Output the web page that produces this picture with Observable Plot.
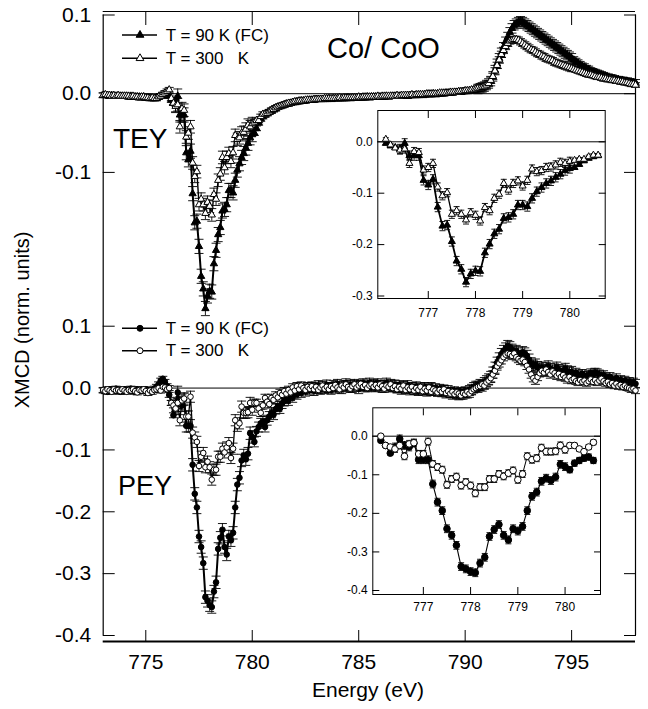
<!DOCTYPE html>
<html><head><meta charset="utf-8">
<script src="https://cdn.jsdelivr.net/npm/d3@7"></script>
<script src="https://cdn.jsdelivr.net/npm/@observablehq/plot@0.6"></script>
<style>
body{margin:0;background:#fff;}
#chart{position:relative;width:648px;height:709px;overflow:hidden;background:#fff;}
#chart > svg{position:absolute;}
</style></head><body><div id="chart"></div>
<script>
// ---------------- data (Energy grid 773.0 .. 798.0 eV, step 0.1) ----------------
const energyStart = 773.0, energyStep = 0.1;

// TEY, T = 90 K (FC)
const tey90 = [
-0.002,-0.002,-0.002,-0.003,-0.002,-0.003,-0.003,-0.003,-0.003,-0.003,
-0.003,-0.003,-0.004,-0.003,-0.004,-0.004,-0.004,-0.004,-0.005,-0.004,
-0.005,-0.005,-0.005,-0.006,-0.006,-0.005,-0.004,-0.003,-0.002,-0.001,
0.000,
-0.003,-0.008,-0.011,-0.014,-0.003,-0.027,-0.027,-0.027,-0.075,-0.084,
-0.073,-0.127,-0.164,-0.162,-0.194,-0.232,-0.248,-0.273,-0.257,-0.251,
-0.252,-0.216,-0.199,-0.179,-0.170,-0.149,-0.147,-0.141,-0.123,-0.123,
-0.126,-0.110,-0.097,-0.089,-0.081,-0.076,-0.069,-0.063,-0.056,-0.052,
-0.050,-0.044,-0.037,-0.032,-0.029,-0.027,
-0.025,-0.023,-0.022,-0.020,-0.019,-0.017,-0.016,-0.015,-0.014,-0.013,
-0.013,-0.012,-0.011,-0.011,-0.010,-0.010,-0.009,-0.009,-0.009,-0.008,
-0.008,-0.008,-0.008,-0.007,-0.007,-0.007,-0.007,-0.007,-0.007,-0.006,
-0.007,-0.006,-0.006,-0.006,-0.006,-0.006,-0.006,-0.006,-0.005,-0.006,
-0.005,-0.005,-0.005,-0.005,-0.005,-0.005,-0.005,-0.004,-0.005,-0.004,
-0.004,-0.004,-0.004,-0.004,-0.004,-0.004,-0.003,-0.004,-0.003,-0.003,
-0.003,-0.003,-0.003,-0.003,-0.003,-0.002,-0.003,-0.002,-0.002,-0.002,
-0.002,-0.002,-0.001,-0.002,-0.001,-0.001,-0.001,-0.001,0.000,-0.001,
0.000,0.000,0.000,0.000,0.001,0.001,0.001,0.001,0.002,0.002,
0.002,0.002,0.003,0.003,0.003,0.004,0.004,0.005,0.005,0.006,
0.007,0.008,0.009,0.011,0.013,0.016,0.022,0.030,0.038,0.045,
0.052,0.059,0.066,0.072,0.078,0.083,0.087,0.089,0.091,0.092,
0.091,0.089,0.087,0.085,0.083,0.081,0.079,0.077,0.075,0.073,
0.071,0.069,0.067,0.065,0.063,0.061,0.059,0.057,0.055,0.053,
0.051,0.049,0.047,0.045,0.043,0.041,0.039,0.037,0.035,0.034,
0.032,0.031,0.029,0.028,0.027,0.026,0.025,0.024,0.023,0.022,
0.021,0.020,0.020,0.019,0.018,0.018,0.017,0.017,0.016,0.016,
0.015,0.015,0.014,0.014
];

// TEY, T = 300 K
const tey300 = [
-0.002,-0.001,-0.002,-0.002,-0.003,-0.002,-0.003,-0.002,-0.003,-0.003,
-0.003,-0.003,-0.003,-0.004,-0.003,-0.004,-0.004,-0.005,-0.004,-0.004,
-0.005,-0.005,-0.006,-0.005,-0.006,-0.006,-0.004,-0.003,-0.001,0.001,
0.003,
0.005,-0.006,-0.012,-0.016,-0.014,-0.042,-0.019,-0.021,-0.055,-0.050,
-0.042,-0.088,-0.105,-0.099,-0.141,-0.134,-0.141,-0.152,-0.138,-0.143,
-0.154,-0.128,-0.134,-0.110,-0.102,-0.081,-0.094,-0.081,-0.076,-0.086,
-0.075,-0.053,-0.058,-0.056,-0.050,-0.049,-0.045,-0.040,-0.042,-0.038,
-0.036,-0.034,-0.034,-0.029,-0.026,-0.026,
-0.025,-0.023,-0.021,-0.020,-0.018,-0.017,-0.016,-0.015,-0.014,-0.013,
-0.012,-0.012,-0.011,-0.010,-0.010,-0.009,-0.009,-0.009,-0.008,-0.008,
-0.008,-0.008,-0.007,-0.007,-0.007,-0.007,-0.007,-0.006,-0.006,-0.006,
-0.006,-0.006,-0.006,-0.006,-0.005,-0.006,-0.005,-0.005,-0.005,-0.005,
-0.005,-0.005,-0.005,-0.004,-0.005,-0.004,-0.004,-0.004,-0.004,-0.004,
-0.004,-0.004,-0.003,-0.004,-0.003,-0.003,-0.003,-0.003,-0.003,-0.003,
-0.003,-0.002,-0.003,-0.002,-0.002,-0.002,-0.002,-0.002,-0.001,-0.002,
-0.001,-0.001,-0.001,-0.001,-0.001,0.000,0.000,0.000,0.000,0.000,
0.000,0.001,0.001,0.001,0.001,0.001,0.002,0.002,0.002,0.002,
0.003,0.003,0.003,0.004,0.004,0.004,0.005,0.005,0.006,0.007,
0.007,0.008,0.009,0.011,0.013,0.017,0.022,0.029,0.036,0.043,
0.050,0.055,0.060,0.064,0.067,0.068,0.069,0.069,0.068,0.066,
0.064,0.062,0.060,0.058,0.056,0.055,0.053,0.051,0.050,0.048,
0.047,0.045,0.044,0.043,0.042,0.040,0.039,0.038,0.037,0.036,
0.035,0.034,0.033,0.032,0.031,0.030,0.029,0.028,0.027,0.026,
0.025,0.024,0.024,0.023,0.022,0.021,0.021,0.020,0.019,0.019,
0.018,0.018,0.017,0.017,0.016,0.016,0.015,0.015,0.014,0.014,
0.013,0.012,0.012,0.011
];

// PEY, T = 90 K (FC)
const pey90 = [
-0.004,-0.003,-0.006,-0.002,-0.005,-0.003,-0.001,-0.004,-0.006,-0.003,
-0.002,-0.005,-0.003,-0.001,-0.004,-0.006,-0.002,-0.004,-0.003,-0.005,
-0.002,-0.004,-0.006,-0.003,-0.001,0.002,0.006,0.012,0.015,0.010,
0.003,
-0.011,-0.024,-0.044,-0.028,-0.007,-0.024,-0.028,-0.018,-0.061,-0.061,
-0.061,-0.124,-0.171,-0.193,-0.240,-0.257,-0.283,-0.338,-0.344,-0.351,
-0.354,-0.329,-0.314,-0.260,-0.242,-0.229,-0.257,-0.269,-0.240,-0.246,
-0.234,-0.193,-0.156,-0.145,-0.117,-0.109,-0.115,-0.106,-0.073,-0.079,
-0.087,-0.070,-0.063,-0.057,-0.054,-0.063,
-0.052,-0.046,-0.040,-0.043,-0.034,-0.030,-0.033,-0.025,-0.021,-0.017,
-0.020,-0.012,-0.015,-0.008,-0.010,-0.004,-0.007,-0.002,-0.005,0.001,
-0.003,0.002,-0.004,0.000,0.004,-0.002,0.003,-0.001,0.005,0.001,
-0.002,0.004,0.000,0.006,0.002,-0.001,0.004,0.007,0.002,0.005,
0.001,0.006,0.003,-0.001,0.004,0.007,0.002,0.005,0.008,0.003,
0.006,0.002,0.007,0.004,0.001,0.005,0.008,0.003,0.006,0.002,
0.005,0.001,0.004,-0.002,0.003,0.000,0.004,-0.003,0.001,-0.002,
0.002,-0.004,0.000,-0.003,0.001,-0.005,-0.002,0.001,-0.004,-0.001,
-0.005,-0.002,-0.006,-0.003,-0.008,-0.004,-0.007,-0.010,-0.006,-0.009,
-0.011,-0.007,-0.010,-0.006,-0.008,-0.004,-0.002,0.001,0.003,0.002,
0.005,0.004,0.008,0.011,0.014,0.018,0.025,0.033,0.041,0.048,
0.055,0.060,0.064,0.068,0.066,0.062,0.058,0.060,0.056,0.052,
0.058,0.056,0.052,0.046,0.040,0.036,0.038,0.034,0.031,0.033,
0.029,0.032,0.035,0.031,0.028,0.030,0.033,0.029,0.026,0.028,
0.031,0.027,0.024,0.026,0.022,0.025,0.021,0.019,0.023,0.020,
0.019,0.021,0.024,0.022,0.025,0.024,0.022,0.019,0.021,0.017,
0.015,0.018,0.014,0.012,0.016,0.011,0.013,0.009,0.012,0.008,
0.010,0.006,0.009,0.007
];

// PEY, T = 300 K
const pey300 = [
-0.003,-0.005,-0.002,-0.004,-0.006,-0.002,-0.004,-0.003,-0.005,-0.002,
-0.004,-0.006,-0.003,-0.004,-0.002,-0.005,-0.007,-0.003,-0.004,-0.002,
-0.005,-0.008,-0.004,-0.006,-0.003,-0.002,0.000,-0.004,0.002,0.001,
-0.002,
0.000,-0.024,-0.028,-0.033,-0.024,-0.052,-0.020,-0.017,-0.046,-0.046,
-0.014,-0.072,-0.080,-0.087,-0.126,-0.111,-0.105,-0.128,-0.119,-0.128,
-0.148,-0.132,-0.132,-0.111,-0.111,-0.098,-0.104,-0.096,-0.089,-0.113,
-0.098,-0.052,-0.061,-0.057,-0.030,-0.040,-0.040,-0.039,-0.024,-0.035,
-0.024,-0.024,-0.033,-0.040,-0.028,-0.016,
-0.022,-0.026,-0.016,-0.019,-0.012,-0.015,-0.008,-0.011,-0.005,-0.009,
-0.003,-0.007,0.001,-0.004,0.003,-0.002,0.004,0.000,-0.003,0.002,
-0.001,0.003,-0.002,0.002,-0.003,0.001,0.004,-0.001,0.002,-0.002,
0.003,0.000,0.005,0.001,-0.002,0.004,0.001,0.006,0.002,-0.001,
0.003,0.006,0.001,0.004,0.007,0.002,0.005,0.000,0.004,0.006,
0.002,0.005,0.001,0.006,0.003,-0.001,0.004,0.002,0.006,0.000,
0.003,-0.002,0.002,-0.001,0.004,-0.003,0.001,-0.002,0.002,-0.004,
0.000,-0.003,0.002,-0.005,-0.001,-0.004,0.001,-0.006,-0.002,-0.004,
-0.007,-0.003,-0.006,-0.002,-0.008,-0.005,-0.009,-0.006,-0.010,-0.007,
-0.009,-0.012,-0.008,-0.010,-0.006,-0.009,-0.005,-0.002,0.000,0.002,
0.003,0.006,0.004,0.009,0.012,0.016,0.022,0.028,0.035,0.040,
0.045,0.050,0.054,0.056,0.055,0.052,0.056,0.050,0.047,0.044,
0.046,0.042,0.036,0.030,0.022,0.016,0.012,0.018,0.024,0.028,
0.025,0.030,0.026,0.022,0.027,0.024,0.020,0.023,0.018,0.021,
0.017,0.014,0.018,0.013,0.015,0.011,0.009,0.013,0.010,0.012,
0.008,0.011,0.014,0.010,0.013,0.009,0.012,0.015,0.011,0.008,
0.010,0.006,0.008,0.004,0.007,0.003,0.005,0.002,0.004,0.001,
0.000,-0.002,-0.001,-0.004
];

// error-bar half widths, by energy band (edges in eV)
const errEdges  = [776.35, 780.05, 790.55, 795.05];
const tey90Err  = [0.003, 0.009, 0.003, 0.006, 0.004];
const tey300Err = [0.003, 0.008, 0.003, 0.004, 0.003];
const pey90Err  = [0.004, 0.010, 0.008, 0.009, 0.007];
const pey300Err = [0.004, 0.009, 0.006, 0.006, 0.005];

// axis ticks / domains
const xTicks = [775, 780, 785, 790, 795];
const xDomain = [773, 798];
const topYTicks = [0.1, 0, -0.1];
const botYTicks = [0.1, 0, -0.1, -0.2, -0.3, -0.4];
const insetXTicks = [777, 778, 779, 780];
const inset1YTicks = [0, -0.1, -0.2, -0.3];
const inset2YTicks = [0, -0.1, -0.2, -0.3, -0.4];
const insetRange = [776.05, 780.65];

const legendTEY = ["T = 90 K (FC)", "T = 300   K"];
const legendPEY = ["T = 90 K (FC)", "T = 300   K"];

// ---------------- build ----------------
const energy = tey90.map((_, i) => Math.round((energyStart + i * energyStep) * 10) / 10);
function rows(vals, errs) {
  return vals.map((v, i) => {
    const e = energy[i];
    let k = 0; while (k < errEdges.length && e > errEdges[k]) k++;
    return {e, v, err: errs[k]};
  });
}
const T90 = rows(tey90, tey90Err), T300 = rows(tey300, tey300Err);
const P90 = rows(pey90, pey90Err), P300 = rows(pey300, pey300Err);
const inInset = d => d.e >= insetRange[0] && d.e <= insetRange[1];

const font = "'Liberation Sans', Arial, Helvetica, sans-serif";
const fmt = d => d.toFixed(1);
const blank = () => "";
const capSymbol = {draw(ctx, size) { const w = Math.sqrt(size / Math.PI); ctx.moveTo(-w, 0); ctx.lineTo(w, 0); }};

function series(data, o) {
  const m = [Plot.line(data, {x: "e", y: "v", stroke: "#000", strokeWidth: o.lw})];
  if (o.cap) {
    m.push(Plot.ruleX(data, {x: "e", y1: d => d.v - d.err, y2: d => d.v + d.err, stroke: "#000", strokeWidth: 0.9}));
    m.push(Plot.dot(data, {x: "e", y: d => d.v - d.err, symbol: capSymbol, r: o.cap, fill: "none", stroke: "#000", strokeWidth: 0.9}));
    m.push(Plot.dot(data, {x: "e", y: d => d.v + d.err, symbol: capSymbol, r: o.cap, fill: "none", stroke: "#000", strokeWidth: 0.9}));
  }
  m.push(Plot.dot(data, {x: "e", y: "v", symbol: o.symbol, r: o.r, fill: o.filled ? "#000" : "#fff", stroke: "#000", strokeWidth: 1}));
  return m;
}
// inward ticks: positive tick length shifted back inside the frame
function inwardTicks(xt, yt, xLen, yLen, sides) {
  const m = [];
  if (sides.includes("top")) m.push(Plot.axisX({anchor: "top", ticks: xt, tickSize: xLen, dy: xLen, tickFormat: blank, label: null}));
  if (sides.includes("bottom")) m.push(Plot.axisX({anchor: "bottom", ticks: xt, tickSize: xLen, dy: -xLen, tickFormat: blank, label: null}));
  if (sides.includes("left")) m.push(Plot.axisY({anchor: "left", ticks: yt, tickSize: yLen, dx: yLen, tickFormat: blank, label: null}));
  if (sides.includes("right")) m.push(Plot.axisY({anchor: "right", ticks: yt, tickSize: yLen, dx: -yLen, tickFormat: blank, label: null}));
  return m;
}

const chart = document.getElementById("chart");
function place(svg, left, top) { svg.style.left = left + "px"; svg.style.top = top + "px"; chart.appendChild(svg); }

// Top (TEY) panel
const topYDomain = [-0.2831, 0.1];
const topPlot = Plot.plot({
  width: 648, height: 316, marginTop: 11, marginBottom: 0, marginLeft: 102.7, marginRight: 13,
  style: {background: "transparent", overflow: "visible", fontFamily: font, fontSize: "21px", color: "#000"},
  x: {domain: xDomain, label: null},
  y: {domain: topYDomain, insetTop: 3.5, label: null},
  marks: [
    Plot.ruleY([0], {stroke: "#000", strokeWidth: 1}),
    Plot.ruleX(xDomain, {y1: topYDomain[0], y2: topYDomain[1], stroke: "#000", strokeWidth: 1.2}),
    Plot.ruleY([topYDomain[1]], {dy: -3.5, stroke: "#000", strokeWidth: 1.2}),
    ...inwardTicks(xTicks, topYTicks, 13, 12, ["top", "left", "right"]),
    Plot.axisY({anchor: "left", ticks: topYTicks, tickSize: 0, tickPadding: 12, tickFormat: fmt, label: null}),
    ...series(T90, {symbol: "triangle", r: 2.7, filled: true, lw: 2, cap: 4.5}),
    ...series(T300, {symbol: "triangle", r: 2.7, filled: false, lw: 1.4, cap: 4.5})
  ]
});
place(topPlot, 0, 0);

// Bottom (PEY) panel
const botYDomain = [-0.4, 0.1157];
const botPlot = Plot.plot({
  width: 648, height: 393, marginTop: 0, marginBottom: 68, marginLeft: 102.7, marginRight: 13,
  style: {background: "transparent", overflow: "visible", fontFamily: font, fontSize: "21px", color: "#000"},
  x: {domain: xDomain, label: null},
  y: {domain: botYDomain, insetBottom: 6, label: null},
  marks: [
    Plot.ruleY([0], {stroke: "#000", strokeWidth: 1}),
    Plot.ruleX(xDomain, {y1: botYDomain[0], y2: botYDomain[1], stroke: "#000", strokeWidth: 1.2}),
    Plot.ruleY([botYDomain[0]], {dy: 6, stroke: "#000", strokeWidth: 2}),
    ...inwardTicks(xTicks, botYTicks, 11, 12, ["bottom", "left", "right"]),
    Plot.axisX({anchor: "bottom", ticks: xTicks, tickSize: 0, tickPadding: 12.5, tickFormat: d => String(d), label: null}),
    Plot.axisY({anchor: "left", ticks: botYTicks, tickSize: 0, tickPadding: 12, tickFormat: fmt, label: null}),
    ...series(P90, {symbol: "circle", r: 2.8, filled: true, lw: 2, cap: 4.5}),
    ...series(P300, {symbol: "circle", r: 2.8, filled: false, lw: 1.3, cap: 4.5})
  ]
});
place(botPlot, 0, 316);

// Insets
function inset(d90, d300, yDomain, yTicks, o) {
  return Plot.plot({
    width: 280, height: 230, marginLeft: 37.3, marginTop: o.mt, marginRight: o.mr, marginBottom: o.mb,
    style: {background: "transparent", overflow: "visible", fontFamily: font, fontSize: "12px", color: "#000"},
    x: {domain: [775.93, 780.75], label: null},
    y: {domain: yDomain, insetBottom: o.ib, label: null},
    marks: [
      Plot.frame({stroke: "#000", strokeWidth: 1}),
      Plot.ruleY([0], {stroke: "#000", strokeWidth: 1}),
      ...inwardTicks(insetXTicks, yTicks, 7, 7, ["top", "bottom", "left", "right"]),
      Plot.axisX({anchor: "bottom", ticks: insetXTicks, tickSize: 0, tickPadding: o.xp, tickFormat: d => String(d), label: null}),
      Plot.axisY({anchor: "left", ticks: yTicks, tickSize: 0, tickPadding: 5, tickFormat: fmt, label: null}),
      ...series(d90.filter(inInset), {symbol: o.symbol, r: o.r, filled: true, lw: o.lw90, cap: 3}),
      ...series(d300.filter(inInset), {symbol: o.symbol, r: o.r, filled: false, lw: o.lw300, cap: 3})
    ]
  });
}
place(inset(T90, T300, [-0.3, 0.0609], inset1YTicks, {mt: 10, mr: 15.3, mb: 32, ib: 2.5, xp: 10, symbol: "triangle", r: 2.6, lw90: 1.8, lw300: 1.3}), 340, 100);
place(inset(P90, P300, [-0.4, 0.0736], inset2YTicks, {mt: 10.3, mr: 15, mb: 33, ib: 4, xp: 8.4, symbol: "circle", r: 3.3, lw90: 1.1, lw300: 1}), 335, 397);

// Annotations, titles and legends
const ov = d3.create("svg").attr("width", 648).attr("height", 709)
  .style("font-family", font).style("pointer-events", "none");
function txt(s, x, y, size, anchor = "start", rot = 0) {
  ov.append("text").attr("transform", `translate(${x},${y}) rotate(${rot})`)
    .attr("text-anchor", anchor).attr("dominant-baseline", "central")
    .attr("font-size", size).attr("fill", "#000").style("white-space", "pre").text(s);
}
txt("Co/ CoO", 327, 48, 29);
txt("TEY", 113, 138, 28);
txt("PEY", 118, 486, 27);
txt("Energy (eV)", 368, 689, 21, "middle");
txt("XMCD (norm. units)", 22, 320, 20, "middle", -90);
function legendRow(label, y, sym, filled, r) {
  ov.append("line").attr("x1", 122).attr("x2", 157).attr("y1", y).attr("y2", y).attr("stroke", "#000").attr("stroke-width", 1.6);
  ov.append("path").attr("d", d3.symbol(sym, Math.PI * r * r)()).attr("transform", `translate(140,${y})`)
    .attr("fill", filled ? "#000" : "#fff").attr("stroke", "#000");
  txt(label, 165.7, y, 17);
}
legendRow(legendTEY[0], 35, d3.symbolTriangle, true, 2.9);
legendRow(legendTEY[1], 58.3, d3.symbolTriangle, false, 2.9);
legendRow(legendPEY[0], 328.3, d3.symbolCircle, true, 3);
legendRow(legendPEY[1], 350.7, d3.symbolCircle, false, 3);
place(ov.node(), 0, 0);
</script></body></html>
